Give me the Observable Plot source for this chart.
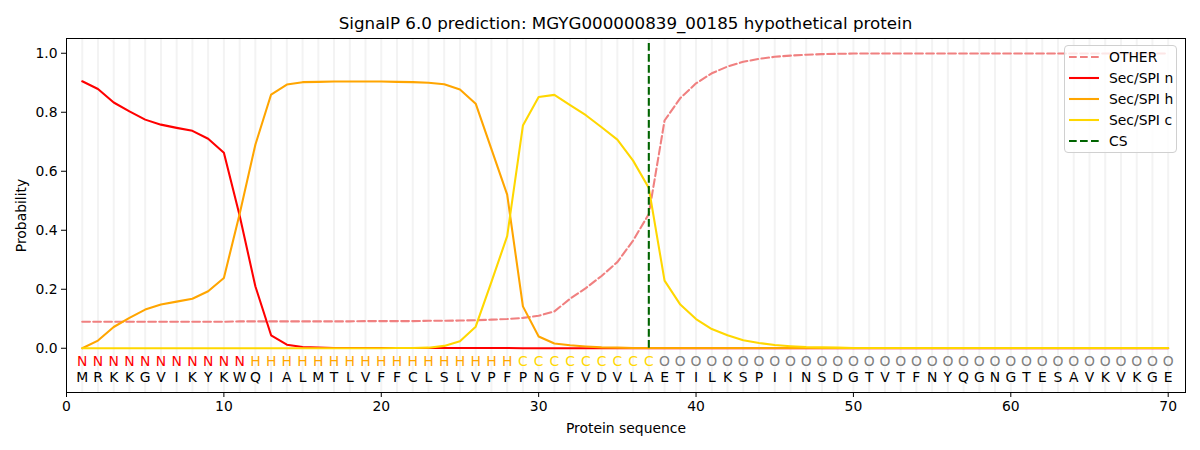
<!DOCTYPE html>
<html>
<head>
<meta charset="utf-8">
<script src="https://cdn.jsdelivr.net/npm/d3@7"></script>
<script src="https://cdn.jsdelivr.net/npm/@observablehq/plot@0.6"></script>
<style>
  body { margin: 0; background: #fff; font-family: "DejaVu Sans", sans-serif; }
  #wrap { position: relative; width: 1200px; height: 450px; }
  #title { height: 30px; box-sizing: border-box; padding-top: 13px; line-height: 20px; font-size: 16.7px;
           padding-left: 66px; padding-right: 15px; text-align: center; white-space: nowrap; color: #000; }
  #legend { position: absolute; left: 1064px; top: 44.5px; width: 113px; height: 108px; box-sizing: border-box;
            border: 1px solid #d0d0d0; border-radius: 4px; background: rgba(255,255,255,0.8); font-size: 13.9px; color: #000; }
  .row { position: absolute; left: 0; height: 20px; }
  .row svg { position: absolute; left: 4px; top: 0; }
  .row span { position: absolute; left: 44px; top: 1px; line-height: 18px; white-space: nowrap; }
</style>
</head>
<body>
<div id="wrap">
  <div id="title">SignalP 6.0 prediction: MGYG000000839_00185 hypothetical protein</div>
  <div id="chart"></div>
  <div id="legend"></div>
</div>
<script>
// ---- data ----
const sequence = "MRKKGVIKYKWQIALMTLVFFCLSLVPFPNGFVDVLAETILKSPIINSDGTVTFNYQGNGTESAVKVKGE".split("");
const regionLabels = "NNNNNNNNNNNHHHHHHHHHHHHHHHHHCCCCCCCCCOOOOOOOOOOOOOOOOOOOOOOOOOOOOOOOOO".split("");
const positions = sequence.map((_, i) => i + 1);

const otherProb = [0.090,0.090,0.090,0.090,0.090,0.090,0.090,0.090,0.090,0.090,
                   0.091,0.091,0.091,0.091,0.091,0.091,0.091,0.091,0.092,0.092,
                   0.092,0.092,0.093,0.093,0.094,0.095,0.097,0.099,0.103,0.110,
                   0.125,0.168,0.204,0.245,0.292,0.365,0.455,0.772,0.848,0.898,
                   0.932,0.955,0.971,0.981,0.988,0.992,0.995,0.997,0.998,0.999,
                   0.999,0.999,0.999,0.999,0.999,0.999,0.999,0.999,0.999,0.999,
                   0.999,0.999,0.999,0.999,0.999,0.999,0.999,0.999,0.999,0.999];
const nProb = [0.905,0.879,0.833,0.803,0.775,0.758,0.747,0.737,0.710,0.663,
               0.450,0.210,0.044,0.012,0.004,0.002,0.001,0.001,0.001,0.001,
               0.001,0.001,0.001,0.001,0.001,0.001,0.001,0.001,0.000,0.000,
               0.000,0.000,0.000,0.000,0.000,0.000,0.000,0.000,0.000,0.000,
               0.000,0.000,0.000,0.000,0.000,0.000,0.000,0.000,0.000,0.000,
               0.000,0.000,0.000,0.000,0.000,0.000,0.000,0.000,0.000,0.000,
               0.000,0.000,0.000,0.000,0.000,0.000,0.000,0.000,0.000,0.000];
const hProb = [0.000,0.026,0.072,0.103,0.131,0.148,0.158,0.168,0.193,0.238,
               0.455,0.690,0.860,0.894,0.902,0.903,0.904,0.904,0.904,0.904,
               0.903,0.902,0.900,0.895,0.877,0.829,0.675,0.521,0.142,0.040,
               0.016,0.010,0.006,0.003,0.002,0.001,0.001,0.001,0.001,0.001,
               0.001,0.001,0.001,0.001,0.001,0.001,0.001,0.001,0.001,0.001,
               0.001,0.001,0.001,0.001,0.001,0.001,0.001,0.001,0.001,0.001,
               0.001,0.001,0.001,0.001,0.001,0.001,0.001,0.001,0.001,0.001];
const cProb = [0.000,0.000,0.000,0.000,0.000,0.000,0.000,0.000,0.000,0.000,
               0.000,0.000,0.000,0.000,0.000,0.000,0.000,0.000,0.000,0.000,
               0.001,0.001,0.002,0.008,0.024,0.073,0.225,0.380,0.755,0.852,
               0.859,0.824,0.790,0.749,0.707,0.636,0.543,0.229,0.148,0.099,
               0.065,0.044,0.027,0.018,0.011,0.007,0.004,0.003,0.002,0.001,
               0.001,0.001,0.001,0.001,0.001,0.001,0.001,0.001,0.001,0.001,
               0.001,0.001,0.001,0.001,0.001,0.001,0.001,0.001,0.001,0.001];
const csPosition = [37];
const xTicks = [0, 10, 20, 30, 40, 50, 60, 70];
const yTicks = [0, 0.2, 0.4, 0.6, 0.8, 1.0];

const seriesNames = ["OTHER", "Sec/SPI n", "Sec/SPI h", "Sec/SPI c", "CS"];
const seriesColors = ["#f08080", "#ff0000", "#ffa500", "#ffd700", "#006400"];
const labelColors = {N: "#ff0000", H: "#ffa500", C: "#ffd700", O: "#808080"};

// ---- build table ----
const rows = positions.map((p, i) => ({
  pos: p, aa: sequence[i], lab: regionLabels[i],
  other: otherProb[i], n: nProb[i], h: hProb[i], c: cProb[i]
}));

const dash = "7.7,3.3";
const lw = 2.08;
const labelRowY = -0.046, seqRowY = -0.100;

const chart = Plot.plot({
  width: 1200, height: 420,
  marginTop: 8, marginBottom: 58, marginLeft: 66, marginRight: 15,
  x: {domain: [0, 71.1]},
  y: {domain: [-0.15, 1.05]},
  style: {fontFamily: "DejaVu Sans, sans-serif", fontSize: "13.9px", color: "#000", background: "#fff"},
  marks: [
    Plot.ruleX(positions, {x: d => d, stroke: "#f3f3f3", strokeWidth: 2}),
    Plot.line(rows, {x: "pos", y: "other", stroke: seriesColors[0], strokeWidth: lw, strokeDasharray: dash}),
    Plot.line(rows, {x: "pos", y: "n", stroke: seriesColors[1], strokeWidth: lw}),
    Plot.line(rows, {x: "pos", y: "h", stroke: seriesColors[2], strokeWidth: lw}),
    Plot.line(rows, {x: "pos", y: "c", stroke: seriesColors[3], strokeWidth: lw}),
    Plot.ruleX(csPosition, {x: d => d, y1: 0, y2: 1.04, stroke: seriesColors[4], strokeWidth: lw, strokeDasharray: dash}),
    ...Object.keys(labelColors).map(k =>
      Plot.text(rows.filter(r => r.lab === k), {x: "pos", y: () => labelRowY, text: "lab", fill: labelColors[k], fontSize: 13.9})
    ),
    Plot.text(rows, {x: "pos", y: () => seqRowY, text: "aa", fill: "#000", fontSize: 13.9}),
    Plot.frame({stroke: "#000", strokeWidth: 1}),
    Plot.axisX({ticks: xTicks, tickSize: 5, tickPadding: 4, tickFormat: d3.format("d"),
                label: "Protein sequence", labelAnchor: "center", labelOffset: 40, labelArrow: "none"}),
    Plot.axisY({ticks: yTicks, tickSize: 5, tickPadding: 4, tickFormat: d3.format(".1f"),
                label: "Probability", labelAnchor: "center", labelOffset: 50, labelArrow: "none"})
  ]
});
document.getElementById("chart").appendChild(chart);

// ---- legend ----
const legend = document.getElementById("legend");
const rowTops = [0, 21, 42, 63, 84];
seriesNames.forEach((name, i) => {
  const r = document.createElement("div");
  r.className = "row";
  r.style.top = (rowTops[i] + 1) + "px";
  const dashed = (name === "OTHER" || name === "CS");
  r.innerHTML = `<svg width="32" height="20"><line x1="0" y1="10" x2="30" y2="10" stroke="${seriesColors[i]}" stroke-width="${lw}" ${dashed ? `stroke-dasharray="${dash}"` : ""}/></svg><span>${name}</span>`;
  legend.appendChild(r);
});
</script>
</body>
</html>
